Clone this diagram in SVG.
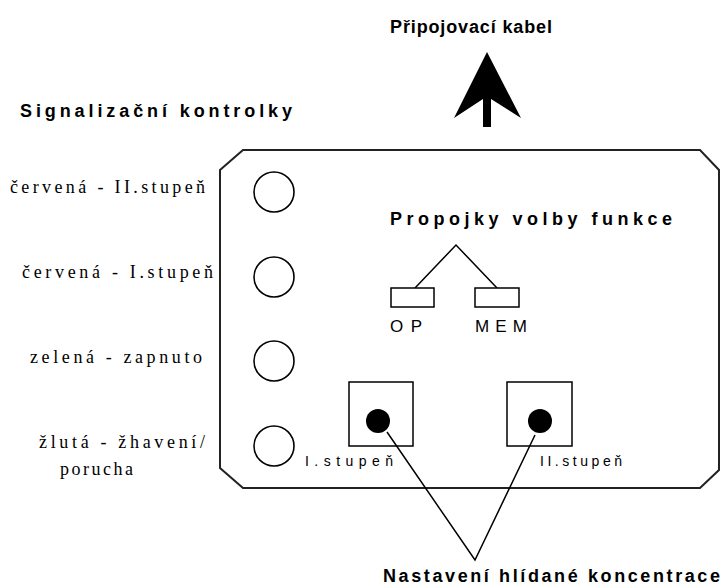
<svg xmlns="http://www.w3.org/2000/svg" width="724" height="588" viewBox="0 0 724 588">
<style>
.b{font-family:"Liberation Sans",Arial,sans-serif;font-weight:bold;font-size:18px;fill:#000}
.s{font-family:"Liberation Serif","Times New Roman",serif;font-size:18px;fill:#000}
.r{font-family:"Liberation Sans",Arial,sans-serif;font-size:14px;fill:#000}
.m{font-family:"Liberation Sans",Arial,sans-serif;font-size:17px;fill:#000}
.ln{fill:none;stroke:#000;stroke-width:1.5}
.led{fill:#fff;stroke:#000;stroke-width:1.6}
</style>
<rect width="724" height="588" fill="#fff"/>
<g id="board">
<polygon points="243,150 700,150 719,170 719,470 700,488 243,488 220,468 220,170" fill="none" stroke="#222" stroke-width="2"/>
</g>
<g id="cable">
<polygon points="487,52 521,118 491,99 491,127 483,127 483,99 454,118" fill="#000"/>
<text class="b" x="390" y="33" textLength="162" lengthAdjust="spacing">Připojovací kabel</text>
</g>
<g id="signal-title"><text class="b" x="20" y="117" textLength="272" lengthAdjust="spacing">Signalizační kontrolky</text></g>
<g id="led1"><circle class="led" cx="274" cy="192" r="20"/><text class="s" x="10" y="193" textLength="195" lengthAdjust="spacing">červená - II.stupeň</text></g>
<g id="led2"><circle class="led" cx="274" cy="277" r="20"/><text class="s" x="22" y="278" textLength="191" lengthAdjust="spacing">červená - I.stupeň</text></g>
<g id="led3"><circle class="led" cx="274" cy="361" r="20"/><text class="s" x="30" y="363" textLength="172" lengthAdjust="spacing">zelená - zapnuto</text></g>
<g id="led4"><circle class="led" cx="274" cy="446" r="20"/><text class="s" x="39" y="448" textLength="166" lengthAdjust="spacing">žlutá - žhavení/</text><text class="s" x="60" y="475" textLength="73" lengthAdjust="spacing">porucha</text></g>
<g id="jumpers">
<text class="b" x="390" y="225" textLength="282" lengthAdjust="spacing">Propojky volby funkce</text>
<polyline class="ln" points="415,288 456,245 497,288" stroke-width="1.2"/>
<rect x="391" y="288" width="43" height="19" fill="#fff" stroke="#000" stroke-width="1.5"/>
<rect x="475" y="288" width="44" height="19" fill="#fff" stroke="#000" stroke-width="1.5"/>
<text class="m" x="390" y="332" textLength="32" lengthAdjust="spacing">OP</text>
<text class="m" x="475" y="332" textLength="52" lengthAdjust="spacing">MEM</text>
</g>
<g id="pot1">
<rect x="349" y="382" width="64" height="64" fill="#fff" stroke="#000" stroke-width="1.5"/>
<circle cx="378" cy="421" r="12" fill="#000"/>
<text class="r" x="305" y="466" textLength="88" lengthAdjust="spacing">I.stupeň</text>
</g>
<g id="pot2">
<rect x="507" y="382" width="65" height="64" fill="#fff" stroke="#000" stroke-width="1.5"/>
<circle cx="540" cy="421" r="12" fill="#000"/>
<text class="r" x="540" y="466" textLength="82" lengthAdjust="spacing">II.stupeň</text>
</g>
<g id="connectors">
<polyline class="ln" points="387,432 475,560 535,435" stroke-width="1.3"/>
</g>
<g id="setting-label"><text class="b" x="383" y="582" textLength="337" lengthAdjust="spacing">Nastavení hlídané koncentrace</text></g>
</svg>
